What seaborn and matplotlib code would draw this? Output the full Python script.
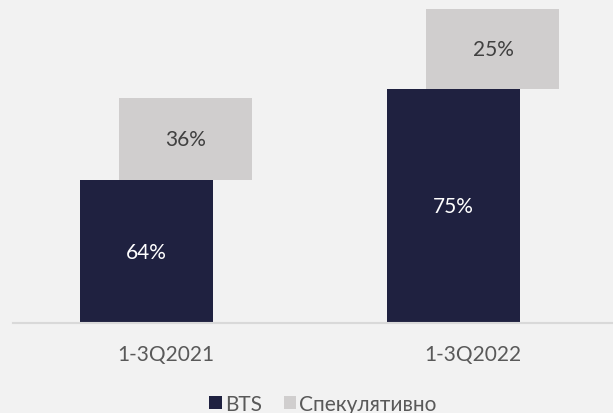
import numpy as np
import seaborn as sns
import matplotlib.pyplot as plt
from matplotlib.patches import Patch

periods = ['1-3Q2021', '1-3Q2022']
bts = [143, 234]
spec = [82, 80]
bts_labels = ['64%', '75%']
spec_labels = ['36%', '25%']
series = ['BTS', 'Спекулятивно']

NAVY = '#1f2140'
LIGHT = '#d0cece'
BG = '#f2f2f2'

sns.set_style('white')
plt.rcParams['font.family'] = ['Lato', 'DejaVu Sans']

fig = plt.figure(figsize=(6.13, 4.14), dpi=100)
fig.patch.set_facecolor(BG)
# axes slightly wider than figure, like the cropped excel chart
ax = fig.add_axes([12.5 / 613, 1 - 324.3 / 414, 614 / 613, 324.3 / 414])
ax.set_facecolor(BG)

pos = np.arange(len(periods))
shift = 0.065
bar_w = 0.433

sns.barplot(x=pos - shift, y=bts, native_scale=True, width=bar_w,
            color=NAVY, saturation=1, linewidth=0, ax=ax)
sns.barplot(x=pos + shift, y=spec, bottom=bts, native_scale=True, width=bar_w,
            color=LIGHT, saturation=1, linewidth=0, ax=ax)

for i in range(len(periods)):
    ax.text(pos[i] - shift, bts[i] / 2, bts_labels[i], ha='center', va='center',
            color='white', fontsize=15)
    ax.text(pos[i] + shift, bts[i] + spec[i] / 2, spec_labels[i], ha='center',
            va='center', color='#404040', fontsize=15)

ax.set_xlim(-0.5, 1.5)
ax.set_ylim(0, 324.3)
ax.set_xticks(pos)
ax.set_xticklabels(periods, fontsize=15, color='#595959')
ax.set_yticks([])
ax.tick_params(axis='x', length=0, pad=15)
ax.set_xlabel('')
ax.set_ylabel('')
for s in ['top', 'right', 'left']:
    ax.spines[s].set_visible(False)
ax.spines['bottom'].set_color('#d9d9d9')
ax.spines['bottom'].set_linewidth(1.5)

handles = [Patch(facecolor=NAVY, edgecolor='none'), Patch(facecolor=LIGHT, edgecolor='none')]
fig.legend(handles, series, loc='center', bbox_to_anchor=(323 / 613, 1 - 405 / 414),
           ncol=2, frameon=False, fontsize=15, handlelength=0.6, handleheight=0.6,
           handletextpad=0.15, columnspacing=1.05, borderpad=0, labelcolor='#595959')

fig.savefig('out.png', dpi=100, facecolor=BG)
